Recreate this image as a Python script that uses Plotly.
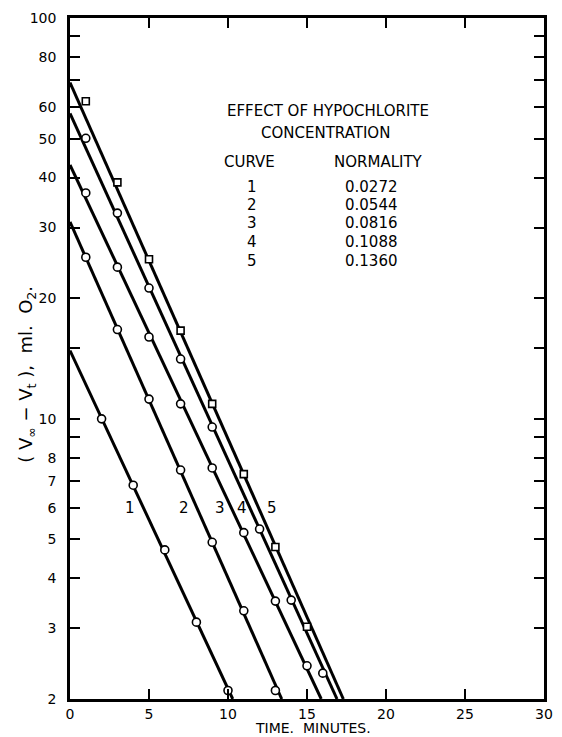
import math
import plotly.graph_objects as go

# ---- data ----
curve_ids = ["1", "2", "3", "4", "5"]
normality = ["0.0272", "0.0544", "0.0816", "0.1088", "0.1360"]

t1 = [2, 4, 6, 8, 10]
v1 = [10.0, 6.83, 4.71, 3.11, 2.1]
t2 = [1, 3, 5, 7, 9, 11, 13]
v2 = [25.3, 16.7, 11.2, 7.45, 4.92, 3.32, 2.1]
t3 = [1, 3, 5, 7, 9, 11, 13, 15]
v3 = [36.6, 23.9, 16.0, 10.9, 7.54, 5.2, 3.51, 2.42]
t4 = [1, 3, 5, 7, 9, 12, 14, 16]
v4 = [50.1, 32.6, 21.2, 14.1, 9.54, 5.31, 3.53, 2.32]
t5 = [1, 3, 5, 7, 9, 11, 13, 15]
v5 = [62.0, 38.9, 25.0, 16.6, 10.9, 7.28, 4.79, 3.03]

# fitted straight lines: value at t=0 and time at which they reach the axis floor (2)
line_start_v = [14.8, 31.0, 43.0, 57.8, 69.0]
line_end_t = [10.3, 13.4, 15.9, 16.9, 17.3]
Y_FLOOR = 2

# curve-number labels (time, value)
label_t = [3.8, 7.2, 9.5, 10.9, 12.8]
label_v = [6.0, 6.0, 6.0, 6.0, 6.0]

y_tickvals = [2, 3, 4, 5, 6, 7, 8, 10, 20, 30, 40, 50, 60, 80, 100]
y_ticktext = ["2", "3", "4", "5", "6", "7", "8", "10", "20", "30", "40", "50", "60", "80", "100"]
y_minor_vals = [9, 15, 70, 90]
x_tickvals = [0, 5, 10, 15, 20, 25, 30]

series_t = [t1, t2, t3, t4, t5]
series_v = [v1, v2, v3, v4, v5]
symbols = ["circle", "circle", "circle", "circle", "square"]

FONT = "DejaVu Sans"
fig = go.Figure()

for i in range(5):
    fig.add_trace(go.Scatter(
        x=[0, line_end_t[i]], y=[line_start_v[i], Y_FLOOR],
        mode="lines", line=dict(color="black", width=3),
        showlegend=False, hoverinfo="skip", cliponaxis=True))

for i in range(5):
    fig.add_trace(go.Scatter(
        x=series_t[i], y=series_v[i], mode="markers",
        marker=dict(symbol=symbols[i], size=8 if symbols[i] == "circle" else 7,
                    color="white", line=dict(color="black", width=1.6)),
        showlegend=False, cliponaxis=False))

L, R, T, B = 70, 9, 18, 38
W, H = 562, 737
pw, ph = W - L - R, H - T - B

def px(xp):
    return (xp - L) / pw

def py(yp):
    return (H - B - yp) / ph

ann = []
ann.append(dict(text="EFFECT OF HYPOCHLORITE", x=px(333), y=py(111)))
ann.append(dict(text="CONCENTRATION", x=px(330), y=py(133)))
ann.append(dict(text="CURVE", x=px(253), y=py(162)))
ann.append(dict(text="NORMALITY", x=px(384), y=py(162)))
row_y = [187, 205, 223, 242, 261]
for cid, nv, ry in zip(curve_ids, normality, row_y):
    ann.append(dict(text=cid, x=px(255), y=py(ry)))
    ann.append(dict(text=nv, x=px(348), y=py(ry), xanchor="left"))
for a in ann:
    a.setdefault("xanchor", "center")
    a.update(xref="paper", yref="paper", yanchor="middle", showarrow=False,
             font=dict(family=FONT, size=15, color="black"))

for cid, lt, lv in zip(curve_ids, label_t, label_v):
    ann.append(dict(text=cid, x=lt, y=math.log10(lv), xref="x", yref="y",
                    showarrow=False, font=dict(family=FONT, size=15, color="black")))

ann.append(dict(text="TIME.  MINUTES.", x=px(318), y=py(737), xref="paper", yref="paper",
                showarrow=False, xanchor="center", yanchor="bottom", borderpad=0,
                font=dict(family=FONT, size=14, color="black")))
ann.append(dict(text="( V<sub>∞</sub> − V<sub>t</sub> ),  ml.  O<sub>2</sub>.", x=px(26), y=py(374),
                xref="paper", yref="paper", textangle=-90,
                showarrow=False, xanchor="center", yanchor="middle",
                font=dict(family=FONT, size=18, color="black")))

fig.update_layout(
    width=W, height=H,
    margin=dict(l=L, r=R, t=T, b=B, pad=0),
    paper_bgcolor="white", plot_bgcolor="white",
    font=dict(family=FONT, size=14, color="black"),
    annotations=ann,
    xaxis=dict(range=[0, 30], tickvals=x_tickvals, ticks="inside", ticklen=10,
               tickwidth=2, tickcolor="black", showline=True, linewidth=2.5,
               linecolor="black", mirror="ticks", showgrid=False, zeroline=False,
               ticklabelstandoff=0,
               tickfont=dict(family=FONT, size=14, color="black")),
    yaxis=dict(type="log", range=[math.log10(2), math.log10(100)],
               tickvals=y_tickvals, ticktext=y_ticktext, ticks="inside", ticklen=10,
               tickwidth=2, tickcolor="black", showline=True, linewidth=2.5,
               linecolor="black", mirror="ticks", showgrid=False, zeroline=False,
               ticklabelstandoff=8,
               minor=dict(tickvals=y_minor_vals, ticks="inside", ticklen=10,
                          tickwidth=2, tickcolor="black", showgrid=False),
               tickfont=dict(family=FONT, size=14, color="black")),
)

fig.write_html("out.html", config={"displayModeBar": False},
               post_script="document.body.style.margin='0';")
